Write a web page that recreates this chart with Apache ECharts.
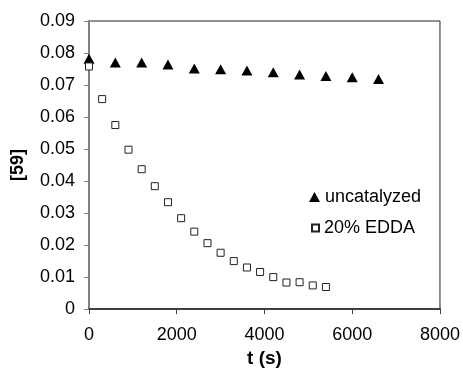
<!DOCTYPE html>
<html>
<head>
<meta charset="utf-8">
<script src="https://cdn.jsdelivr.net/npm/echarts@6/dist/echarts.min.js"></script>
<style>
  html, body { margin: 0; padding: 0; background: #fff; }
  #main { width: 463px; height: 373px; }
</style>
</head>
<body>
<div id="main"></div>
<script>
  // time points (s) and [59] concentration
  const tUncat = [0, 600, 1200, 1800, 2400, 3000, 3600, 4200, 4800, 5400, 6000, 6600];
  const cUncat = [0.0782, 0.0770, 0.0770, 0.0764, 0.0752, 0.0749, 0.0745, 0.0740, 0.0733, 0.0728, 0.0724, 0.0719];
  const tEdda = [0, 300, 600, 900, 1200, 1500, 1800, 2100, 2400, 2700, 3000, 3300, 3600, 3900, 4200, 4500, 4800, 5100, 5400];
  const cEdda = [0.0758, 0.0656, 0.0575, 0.0498, 0.0437, 0.0384, 0.0334, 0.0284, 0.0242, 0.0206, 0.0176, 0.0150, 0.0130, 0.0116, 0.0100, 0.0083, 0.0084, 0.0074, 0.0069];

  const font = "Arial, 'Liberation Sans', sans-serif";
  const pair = (xs, ys) => xs.map((x, i) => [x, ys[i]]);

  const myChart = echarts.init(document.getElementById("main"));
  myChart.setOption({
    animation: false,
    textStyle: { fontFamily: font, color: "#000" },
    grid: {
      left: 89, right: 22, top: 21, bottom: 54,
      show: true, borderColor: "#222", borderWidth: 1,
    },
    legend: [
      {
        data: ["uncatalyzed"],
        left: 304, top: 183,
        itemWidth: 11, itemHeight: 10, itemGap: 5,
        textStyle: { fontSize: 18, color: "#000", fontFamily: font },
      },
      {
        data: ["20% EDDA"],
        left: 306, top: 214,
        itemWidth: 7, itemHeight: 7, itemGap: 5,
        textStyle: { fontSize: 18, color: "#000", fontFamily: font },
      },
    ],
    xAxis: {
      type: "value",
      min: 0, max: 8000, interval: 2000,
      name: "t (s)",
      nameLocation: "middle",
      nameGap: 36,
      nameTextStyle: { fontSize: 19, fontWeight: "bold", color: "#000" },
      axisLine: { lineStyle: { color: "#404040", width: 2 } },
      axisTick: { length: 5, lineStyle: { color: "#404040" } },
      axisLabel: { fontSize: 18, color: "#000", margin: 17, formatter: (v) => String(v) },
      splitLine: { show: false },
    },
    yAxis: {
      type: "value",
      min: 0, max: 0.09, interval: 0.01,
      name: "[59]",
      nameLocation: "middle",
      nameGap: 62,
      nameTextStyle: { fontSize: 18, fontWeight: "bold", color: "#000" },
      axisLine: { show: true, lineStyle: { color: "#808080", width: 2 } },
      axisTick: { show: true, length: 5, lineStyle: { color: "#808080" } },
      axisLabel: {
        fontSize: 18, color: "#000", margin: 14,
        formatter: (v) => (v === 0 ? "0" : v.toFixed(2)),
      },
      splitLine: { show: false },
    },
    series: [
      {
        name: "uncatalyzed",
        type: "scatter",
        symbol: "triangle",
        symbolSize: [11, 10],
        itemStyle: { color: "#000", opacity: 1 },
        data: pair(tUncat, cUncat),
      },
      {
        name: "20% EDDA",
        type: "scatter",
        symbol: "rect",
        symbolSize: 7,
        itemStyle: { color: "#fff", borderColor: "#222", borderWidth: 1, opacity: 1 },
        data: pair(tEdda, cEdda),
      },
    ],
  });
</script>
</body>
</html>
